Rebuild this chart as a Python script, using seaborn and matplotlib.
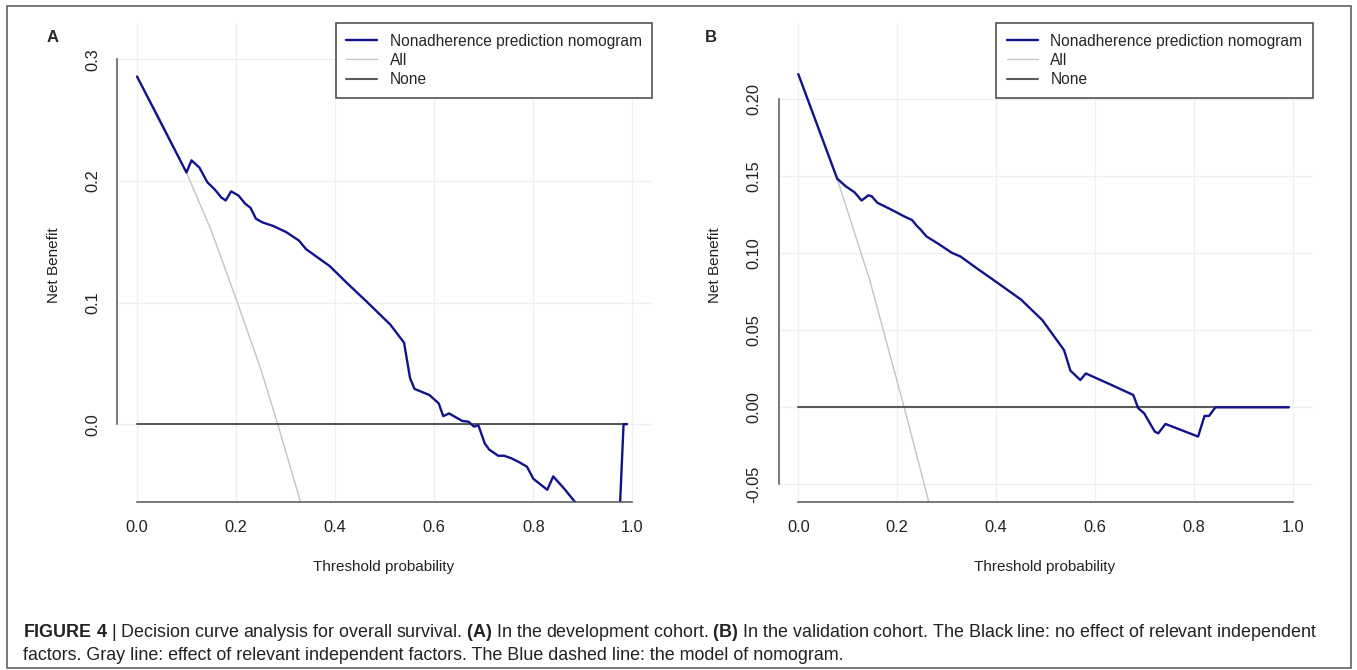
import numpy as np
import pandas as pd
import matplotlib.pyplot as plt
import seaborn as sns
from matplotlib.patches import Rectangle

# Panel A - development cohort
a_thr_model = [0.0, 0.0998, 0.110, 0.126, 0.142, 0.157, 0.170, 0.179, 0.190, 0.205,
               0.218, 0.229, 0.240, 0.253, 0.275, 0.301, 0.327, 0.341, 0.389, 0.424,
               0.463, 0.511, 0.539, 0.551, 0.560, 0.590, 0.609, 0.618, 0.630, 0.656,
               0.669, 0.680, 0.689, 0.702, 0.711, 0.729, 0.741, 0.755, 0.770, 0.787,
               0.800, 0.828, 0.840, 0.862, 0.884, 0.890, 0.974, 0.982, 0.989]
a_nb_model = [0.286, 0.207, 0.217, 0.211, 0.199, 0.193, 0.1865, 0.184, 0.1915, 0.188,
              0.1815, 0.178, 0.169, 0.166, 0.163, 0.158, 0.151, 0.144, 0.130, 0.116,
              0.101, 0.082, 0.067, 0.038, 0.029, 0.024, 0.017, 0.0066, 0.0088, 0.0027,
              0.002, -0.002, -0.001, -0.016, -0.021, -0.026, -0.026, -0.028, -0.031, -0.035,
              -0.045, -0.054, -0.043, -0.053, -0.064, -0.074, -0.074, 0.0, 0.0]
a_thr_all = [0.0, 0.05, 0.0998, 0.15, 0.2, 0.25, 0.284, 0.33]
a_nb_all = [0.286, 0.248, 0.207, 0.159, 0.103, 0.045, 0.0, -0.064]
a_thr_none = [0.0, 0.989]
a_nb_none = [0.0, 0.0]

# Panel B - validation cohort
b_thr_model = [0.0, 0.0786, 0.096, 0.1135, 0.128, 0.1415, 0.1485, 0.160, 0.188, 0.214,
               0.230, 0.240, 0.247, 0.259, 0.284, 0.310, 0.3275, 0.362, 0.402, 0.450,
               0.493, 0.537, 0.550, 0.570, 0.581, 0.633, 0.677, 0.687, 0.699, 0.7205,
               0.7275, 0.742, 0.808, 0.821, 0.830, 0.843, 0.991]
b_nb_model = [0.2164, 0.1485, 0.1435, 0.1397, 0.1343, 0.1377, 0.137, 0.1328, 0.1284, 0.124,
              0.1216, 0.1177, 0.1155, 0.111, 0.106, 0.1004, 0.098, 0.090, 0.081, 0.070,
              0.0567, 0.0372, 0.0238, 0.0177, 0.022, 0.0145, 0.008, -0.0006, -0.0039, -0.0158,
              -0.0169, -0.0108, -0.019, -0.0056, -0.0056, 0.0, 0.0]
b_thr_all = [0.0, 0.0786, 0.144, 0.214, 0.265]
b_nb_all = [0.2164, 0.1485, 0.083, 0.0, -0.063]
b_thr_none = [0.0, 0.991]
b_nb_none = [0.0, 0.0]

legend_labels = ["Nonadherence prediction nomogram", "All", "None"]
x_ticks = [0.0, 0.2, 0.4, 0.6, 0.8, 1.0]
a_y_ticks = [0.0, 0.1, 0.2, 0.3]
b_y_ticks = [-0.05, 0.0, 0.05, 0.10, 0.15, 0.20]

BLUE = "#12128c"
LIGHT = "#c4c4c4"
DARK = "#5a5a5a"
AXC = "#555555"

sns.set_style("white")
plt.rcParams["font.family"] = ["Liberation Sans", "DejaVu Sans"]
plt.rcParams["mathtext.fontset"] = "custom"
plt.rcParams["mathtext.rm"] = "Liberation Sans"
plt.rcParams["mathtext.bf"] = "Liberation Sans:bold"

fig = plt.figure(figsize=(13.57, 6.70), dpi=100)
W, H = 1357.0, 670.0


def draw_panel(rect, thr_model, nb_model, thr_all, nb_all, thr_none, nb_none,
               ylim, yticks, yfmt, letter, letter_x):
    ax = fig.add_axes(rect)
    for v in x_ticks:
        ax.axvline(v, color="#f0f0f0", lw=1, zorder=0)
    for v in yticks:
        ax.axhline(v, color="#f0f0f0", lw=1, zorder=0)
    df_all = pd.DataFrame({"t": thr_all, "nb": nb_all})
    df_none = pd.DataFrame({"t": thr_none, "nb": nb_none})
    df_mod = pd.DataFrame({"t": thr_model, "nb": nb_model})
    sns.lineplot(data=df_all, x="t", y="nb", sort=False, estimator=None,
                 color=LIGHT, lw=1.0, ax=ax)
    sns.lineplot(data=df_none, x="t", y="nb", sort=False, estimator=None,
                 color=DARK, lw=1.5, ax=ax)
    sns.lineplot(data=df_mod, x="t", y="nb", sort=False, estimator=None,
                 color=BLUE, lw=1.7, ax=ax)
    ax.set_xlim(-0.04, 1.04)
    ax.set_ylim(*ylim)
    ax.set_xticks(x_ticks)
    ax.set_xticklabels([f"{v:.1f}" for v in x_ticks])
    ax.set_yticks(yticks)
    ax.set_yticklabels([yfmt.format(v) for v in yticks], rotation=90, va="center")
    for s in ["top", "right"]:
        ax.spines[s].set_visible(False)
    ax.spines["left"].set_bounds(yticks[0], yticks[-1])
    ax.spines["bottom"].set_bounds(0.0, 1.0)
    for s in ["left", "bottom"]:
        ax.spines[s].set_color(AXC)
        ax.spines[s].set_linewidth(1.1)
    ax.tick_params(axis="both", direction="out", length=5.8, width=1.1, color=AXC,
                   labelsize=11.8, labelcolor="#222222")
    ax.tick_params(axis="x", pad=7.5)
    ax.tick_params(axis="y", pad=6.5)
    ax.set_xlabel("Threshold probability", fontsize=11, color="#222222")
    ax.set_ylabel("Net Benefit", fontsize=11, color="#222222")
    ax.xaxis.set_label_coords(0.497, -0.122)
    ax.yaxis.set_label_coords(-0.105, 0.494)
    handles = [ax.lines[-1], ax.lines[-3], ax.lines[-2]]
    leg = ax.legend(handles, legend_labels, loc="upper right", borderaxespad=0,
                    fancybox=False, edgecolor="#444444", framealpha=1, fontsize=11.2,
                    handlelength=2.0, handletextpad=0.8, labelspacing=0.27,
                    borderpad=0.68)
    leg.get_frame().set_linewidth(1.1)
    fig.text(letter_x / W, 1 - 37 / H, letter, fontsize=12, fontweight="bold",
             ha="center", va="center")
    return ax


bottom = (H - 501.7) / H
height = 478.7 / H
draw_panel([117.2 / W, bottom, 535.1 / W, height],
           a_thr_model, a_nb_model, a_thr_all, a_nb_all, a_thr_none, a_nb_none,
           (-0.0638, 0.33), a_y_ticks, "{:.1f}", "A", 52.7)
draw_panel([778.5 / W, bottom, 534.4 / W, height],
           b_thr_model, b_nb_model, b_thr_all, b_nb_all, b_thr_none, b_nb_none,
           (-0.0613, 0.2496), b_y_ticks, "{:.2f}", "B", 710.7)

# caption
cap1 = (r"$\mathbf{FIGURE\ 4}$ | Decision curve analysis for overall survival. "
        r"$\mathbf{(A)}$ In the development cohort. $\mathbf{(B)}$ In the validation cohort. "
        r"The Black line: no effect of relevant independent")
cap2 = ("factors. Gray line: effect of relevant independent factors. "
        "The Blue dashed line: the model of nomogram.")
fig.text(22.7 / W, 1 - 637 / H, cap1, fontsize=12.9, color="#222222", va="baseline")
fig.text(22.7 / W, 1 - 660 / H, cap2, fontsize=12.9, color="#222222", va="baseline")

fig.patches.append(Rectangle((7 / W, 1 - 668 / H), (1351 - 7) / W, (668 - 6) / H,
                             transform=fig.transFigure, fill=False,
                             edgecolor="#555555", lw=1.1))

plt.savefig("out.png", dpi=100)
plt.close()
